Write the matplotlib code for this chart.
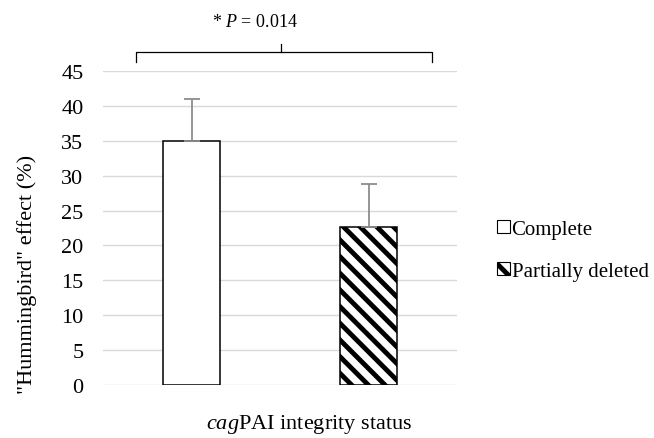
import matplotlib
matplotlib.use('Agg')
import matplotlib.pyplot as plt
from matplotlib.patches import Patch

plt.rcParams['font.family'] = 'Liberation Serif'
plt.rcParams['mathtext.fontset'] = 'custom'
plt.rcParams['mathtext.rm'] = 'Liberation Serif'
plt.rcParams['mathtext.it'] = 'Liberation Serif:italic'
plt.rcParams['hatch.linewidth'] = 3.5

# data
groups = ['Complete', 'Partially deleted']
values = [35.0, 22.7]
errors = [6.0, 6.1]
hatches = ['', '\\\\']
y_ticks = [0, 5, 10, 15, 20, 25, 30, 35, 40, 45]

fig = plt.figure(figsize=(6.54, 4.39), dpi=100)
ax = fig.add_axes([0.1575, 0.1207, 0.5413, 0.7153])

xpos = list(range(len(groups)))
for i in xpos:
    ax.bar(i, values[i], width=0.32, color='white', edgecolor='black',
           linewidth=1.1, hatch=hatches[i], zorder=3)
ax.errorbar(xpos, values, yerr=[[0, 0], errors], fmt='none', ecolor='#8c8c8c',
            elinewidth=1.3, capsize=6, capthick=1.3, zorder=4)

ax.set_xlim(-0.5, 1.5)
ax.set_ylim(0, 45)
ax.set_yticks(y_ticks)
ax.set_xticks([])
ax.tick_params(axis='y', length=0, labelsize=16, pad=14)
ax.grid(axis='y', color='#d9d9d9', linewidth=1, zorder=0)
for s in ax.spines.values():
    s.set_visible(False)

fig.text(27 / 654, 0.374, '"Hummingbird" effect (%)', rotation=90,
         ha='center', va='center', fontsize=16)
fig.text(206 / 654, 0.032, '$cag$PAI integrity status', ha='left',
         va='center', fontsize=16)

# significance brace
bx0, bx1, bmid = -0.316, 1.36, 0.508
by, bend, btip = 47.7, 46.3, 48.9
kw = dict(color='black', linewidth=0.9, clip_on=False)
ax.plot([bx0, bx0, bx1, bx1], [bend, by, by, bend], **kw)
ax.plot([bmid, bmid], [by, btip], **kw)
ax.text(0.356, 52.1, '* $P$ = 0.014', ha='center', va='center', fontsize=13)

handles = [Patch(facecolor='white', edgecolor='black', hatch=h, linewidth=0.8)
           for h in hatches]
fig.legend(handles, groups, loc='center left', bbox_to_anchor=(0.76, 0.428),
           frameon=False, fontsize=15, handlelength=0.6, handleheight=0.6,
           handletextpad=0.1, labelspacing=1.1, borderaxespad=0, borderpad=0)

fig.savefig('out.png', dpi=100)
